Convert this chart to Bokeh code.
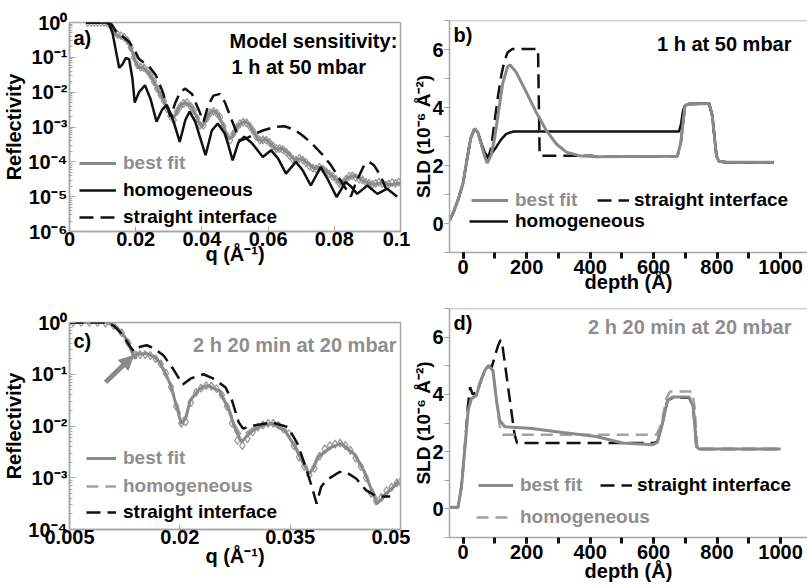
import numpy as np
from bokeh.plotting import figure
from bokeh.layouts import row, column
from bokeh.models import (Range1d, FixedTicker, SingleIntervalTicker, CustomJSTickFormatter,
                          Legend, LegendItem, Label, Arrow, NormalHead, Span)
from bokeh.core.properties import value
from bokeh.embed import file_html
from bokeh.resources import INLINE

# ---------------- data: panel a (1 h at 50 mbar, reflectivity) ----------------
a_data_q = [0.0055, 0.0065, 0.0075, 0.0085, 0.0095, 0.0105, 0.0115, 0.0125, 0.0135, 0.0145,
            0.0155, 0.0165, 0.0175, 0.0185, 0.0195, 0.0205, 0.0215, 0.0225, 0.0235, 0.0245,
            0.0255, 0.0265, 0.0275, 0.0285, 0.0295, 0.0305, 0.0315, 0.0325, 0.0335, 0.0345,
            0.0355, 0.0365, 0.0375, 0.0385, 0.0395, 0.0405, 0.0415, 0.0425, 0.0435, 0.0445,
            0.0455, 0.0465, 0.0475, 0.0485, 0.0495, 0.0505, 0.0515, 0.0525, 0.0535, 0.0545,
            0.0555, 0.0565, 0.0575, 0.0585, 0.0595, 0.0605, 0.0615, 0.0625, 0.0635, 0.0645,
            0.0655, 0.0665, 0.0675, 0.0685, 0.0695, 0.0705, 0.0715, 0.0725, 0.0735, 0.0745,
            0.0755, 0.0765, 0.0775, 0.0785, 0.0795, 0.0805, 0.0815, 0.0825, 0.0835, 0.0845,
            0.0855, 0.0865, 0.0875, 0.0885, 0.0895, 0.0905, 0.0915, 0.0925, 0.0935, 0.0945,
            0.0955, 0.0965, 0.0975, 0.0985, 0.0995]
a_data_logR = [0.0, 0.0, 0.0, 0.0, 0.0, 0.0, -0.02, -0.08, -0.25, -0.34,
               -0.38, -0.43, -0.52, -0.72, -1.0, -1.22, -1.28, -1.3, -1.38, -1.52,
               -1.7, -1.9, -2.08, -2.25, -2.48, -2.68, -2.8, -2.55, -2.4, -2.32,
               -2.3, -2.4, -2.52, -2.75, -2.95, -2.95, -2.75, -2.6, -2.55, -2.6,
               -2.72, -2.98, -3.25, -3.38, -3.2, -3.02, -2.9, -2.86, -2.88, -2.98,
               -3.12, -3.28, -3.38, -3.37, -3.38, -3.45, -3.55, -3.62, -3.62, -3.65,
               -3.72, -3.82, -3.92, -3.95, -3.9, -3.95, -4.02, -4.12, -4.18, -4.2,
               -4.16, -4.2, -4.28, -4.35, -4.42, -4.5, -4.62, -4.62, -4.5, -4.42,
               -4.4, -4.45, -4.5, -4.52, -4.58, -4.62, -4.65, -4.62, -4.58, -4.62,
               -4.66, -4.64, -4.6, -4.62, -4.58]

a_fit_q = [0.005, 0.010, 0.012, 0.013, 0.014, 0.015, 0.016, 0.017, 0.018, 0.019, 0.020,
           0.021, 0.022, 0.023, 0.024, 0.025, 0.026, 0.027, 0.028, 0.029, 0.030, 0.031,
           0.032, 0.033, 0.034, 0.035, 0.036, 0.037, 0.038, 0.039, 0.040, 0.041, 0.042,
           0.043, 0.044, 0.045, 0.046, 0.047, 0.048, 0.049, 0.050, 0.051, 0.052, 0.053,
           0.054, 0.055, 0.056, 0.057, 0.058, 0.059, 0.060, 0.061, 0.062, 0.063, 0.064,
           0.066, 0.068, 0.070, 0.072, 0.074, 0.076, 0.078, 0.080, 0.082, 0.084, 0.086,
           0.088, 0.090, 0.092, 0.094, 0.096, 0.098, 0.100]
a_fit_logR = [0.0, 0.0, -0.02, -0.15, -0.33, -0.40, -0.42, -0.45, -0.60, -0.85, -1.15,
              -1.30, -1.28, -1.35, -1.45, -1.60, -1.80, -2.0, -2.15, -2.35, -2.55, -2.75,
              -2.65, -2.45, -2.35, -2.30, -2.35, -2.45, -2.62, -2.85, -3.0, -2.85, -2.65,
              -2.55, -2.55, -2.65, -2.85, -3.1, -3.35, -3.3, -3.1, -2.95, -2.88, -2.85,
              -2.9, -3.05, -3.2, -3.35, -3.4, -3.35, -3.4, -3.5, -3.6, -3.65, -3.6,
              -3.75, -3.95, -3.9, -4.05, -4.2, -4.15, -4.3, -4.45, -4.65, -4.45, -4.40,
              -4.5, -4.6, -4.65, -4.6, -4.65, -4.65, -4.6]

a_hom_q = [0.005, 0.011, 0.012, 0.013, 0.014, 0.015, 0.016, 0.017, 0.018, 0.019, 0.0197,
           0.021, 0.0228, 0.0245, 0.0263, 0.028, 0.0293, 0.031, 0.0333, 0.035, 0.0363,
           0.038, 0.0411, 0.043, 0.0448, 0.047, 0.0493, 0.051, 0.0528, 0.055, 0.0584,
           0.0609, 0.063, 0.0654, 0.0684, 0.0705, 0.0729, 0.0759, 0.078, 0.0807, 0.0834,
           0.085, 0.0869, 0.090, 0.093, 0.096, 0.099]
a_hom_logR = [0.0, 0.0, -0.05, -0.3, -0.8, -1.3, -1.2, -1.02, -1.05, -1.6, -2.3,
              -2.0, -1.8, -2.2, -2.85, -2.5, -2.37, -2.7, -3.43, -2.8, -2.56,
              -2.85, -3.81, -3.1, -2.9, -3.2, -3.96, -3.45, -3.28, -3.45, -3.86,
              -3.67, -3.9, -4.34, -4.0, -4.25, -4.68, -4.15, -4.5, -5.01, -4.58,
              -4.7, -4.92, -4.68, -4.92, -4.77, -5.0]

a_str_q = [0.005, 0.012, 0.013, 0.014, 0.016, 0.018, 0.0197, 0.021, 0.0225, 0.024, 0.026,
           0.028, 0.0295, 0.0305, 0.032, 0.0335, 0.035, 0.037, 0.039, 0.0405, 0.042, 0.0435,
           0.0455, 0.047, 0.049, 0.0515, 0.054, 0.056, 0.0584, 0.062, 0.065, 0.068, 0.0705,
           0.0735, 0.0765, 0.079, 0.082, 0.085, 0.0865, 0.089, 0.0905, 0.092, 0.094, 0.0955]
a_str_logR = [0.0, 0.0, -0.1, -0.25, -0.4, -0.55, -0.8, -1.05, -1.15, -1.25, -1.5,
              -1.95, -2.4, -2.7, -2.3, -1.98, -1.9, -2.05, -2.5, -2.85, -2.35, -2.1,
              -2.05, -2.3, -2.8, -3.4, -3.3, -3.2, -3.1, -3.0, -2.98, -3.08, -3.25,
              -3.5, -3.8, -4.1, -4.55, -5.0, -4.6, -4.1, -4.0, -4.1, -4.4, -4.75]

a_xticks = [0.0, 0.02, 0.04, 0.06, 0.08, 0.1]
a_xtick_labels = ["0", "0.02", "0.04", "0.06", "0.08", "0.1"]
a_ytick_labels = ["10⁰", "10⁻¹", "10⁻²", "10⁻³", "10⁻⁴", "10⁻⁵", "10⁻⁶"]

# ---------------- data: panel b (1 h at 50 mbar, SLD profile) ----------------
b_fit_depth = [-43, -30, -15, 0, 12, 24, 36, 46, 58, 68, 76, 88, 100, 112, 125, 140, 148,
               167, 199, 230, 262, 293, 325, 366, 420, 675, 686, 699, 712, 775, 785, 798,
               806, 830, 979]
b_fit_sld = [0.1, 0.4, 0.85, 1.4, 2.2, 2.95, 3.27, 3.15, 2.7, 2.3, 2.08, 2.35, 3.0, 3.9,
             4.85, 5.4, 5.47, 5.22, 4.53, 3.84, 3.21, 2.75, 2.46, 2.34, 2.3, 2.32, 2.8,
             4.07, 4.12, 4.14, 3.72, 2.34, 2.14, 2.11, 2.11]

b_hom_depth = [-43, -30, -15, 0, 12, 24, 36, 46, 58, 68, 78, 90, 105, 120, 135, 150, 160,
               680, 686, 693, 699, 712, 775, 785, 798, 806, 830, 979]
b_hom_sld = [0.1, 0.4, 0.85, 1.4, 2.2, 2.95, 3.27, 3.15, 2.75, 2.45, 2.3, 2.42, 2.65, 2.9,
             3.08, 3.15, 3.17, 3.17, 3.4, 3.9, 4.07, 4.12, 4.14, 3.72, 2.34, 2.14, 2.11, 2.11]

b_str_depth = [-43, -30, -15, 0, 12, 24, 36, 46, 58, 68, 78, 88, 100, 110, 120, 130, 140,
               155, 236, 241, 404, 420, 675, 686, 699, 712, 775, 785, 798, 806, 830, 979]
b_str_sld = [0.1, 0.4, 0.85, 1.4, 2.2, 2.95, 3.27, 3.15, 2.7, 2.35, 2.25, 2.6, 3.6, 4.4,
             5.1, 5.6, 5.9, 6.02, 6.02, 2.34, 2.34, 2.3, 2.32, 2.8, 4.07, 4.12, 4.14, 3.72,
             2.34, 2.14, 2.11, 2.11]

# ---------------- data: panel c (2 h 20 min at 20 mbar, reflectivity) ----------------
c_data_q = [0.0055, 0.0066, 0.0077, 0.0088, 0.0099, 0.0110, 0.0121, 0.0130, 0.0138, 0.0146,
            0.0153, 0.0160, 0.0167, 0.0174, 0.0181, 0.0188, 0.0195, 0.0202, 0.0208, 0.0215,
            0.0222, 0.0229, 0.0236, 0.0243, 0.0250, 0.0257, 0.0264, 0.0271, 0.0278, 0.0285,
            0.0292, 0.0299, 0.0306, 0.0313, 0.0320, 0.0327, 0.0334, 0.0341, 0.0348, 0.0355,
            0.0362, 0.0369, 0.0376, 0.0383, 0.0390, 0.0397, 0.0404, 0.0411, 0.0418, 0.0425,
            0.0432, 0.0439, 0.0446, 0.0453, 0.0460, 0.0467, 0.0474, 0.0481, 0.0488, 0.0495,
            0.0500]
c_data_logR = [0.0, 0.0, 0.0, 0.0, -0.01, -0.06, -0.2, -0.4, -0.62, -0.62,
               -0.62, -0.64, -0.7, -0.8, -0.98, -1.25, -1.62, -1.95, -1.92, -1.55,
               -1.35, -1.27, -1.22, -1.23, -1.28, -1.4, -1.62, -1.95, -2.28, -2.38,
               -2.25, -2.12, -2.02, -1.98, -1.95, -1.95, -1.99, -2.06, -2.15, -2.38,
               -2.6, -2.78, -2.95, -2.82, -2.58, -2.44, -2.38, -2.35, -2.33, -2.38,
               -2.47, -2.62, -2.78, -3.0, -3.3, -3.45, -3.38, -3.25, -3.18, -3.1,
               -3.08]

c_fit_q = [0.005, 0.0102, 0.0115, 0.0129, 0.0135, 0.0140, 0.01405, 0.0155, 0.0165, 0.0173,
           0.0187, 0.0196, 0.0202, 0.0208, 0.0214, 0.0227, 0.0238, 0.0254, 0.0267, 0.0276,
           0.0284, 0.0292, 0.0299, 0.0312, 0.0325, 0.0343, 0.0357, 0.0368, 0.0376, 0.0382,
           0.0388, 0.0406, 0.0419, 0.0437, 0.0450, 0.0459, 0.0468, 0.0474, 0.0481, 0.0497]
c_fit_logR = [0.0, 0.0, -0.1, -0.35, -0.58, -0.70, -0.62, -0.60, -0.66, -0.77,
              -1.19, -1.64, -1.96, -1.85, -1.51, -1.28, -1.22, -1.32, -1.70, -2.09,
              -2.31, -2.18, -2.09, -1.99, -1.95, -2.09, -2.41, -2.73, -2.92, -2.80,
              -2.60, -2.41, -2.34, -2.54, -2.86, -3.18, -3.50, -3.42, -3.31, -3.08]

c_hom_q = [0.005, 0.0102, 0.0115, 0.0129, 0.0135, 0.0145, 0.0155, 0.0165, 0.0173, 0.0187,
           0.0196, 0.0203, 0.0209, 0.0214, 0.0227, 0.0238, 0.0254, 0.0267, 0.0276, 0.0284,
           0.0292, 0.0299, 0.0312, 0.0325, 0.0343, 0.0357, 0.0368, 0.0376, 0.0382, 0.0388,
           0.0406, 0.0419, 0.0437, 0.0450, 0.0459, 0.0468, 0.0474, 0.0481, 0.0497]
c_hom_logR = [0.0, 0.0, -0.1, -0.35, -0.55, -0.60, -0.60, -0.66, -0.77, -1.17,
              -1.60, -1.88, -1.80, -1.50, -1.27, -1.21, -1.31, -1.68, -2.02, -2.20,
              -2.12, -2.05, -1.97, -1.94, -2.08, -2.40, -2.70, -2.86, -2.76, -2.58,
              -2.40, -2.33, -2.52, -2.84, -3.15, -3.42, -3.38, -3.29, -3.08]

c_str_q = [0.005, 0.0100, 0.0110, 0.0121, 0.0134, 0.0138, 0.0146, 0.0155, 0.0165, 0.0178,
           0.0191, 0.0204, 0.0215, 0.0232, 0.0245, 0.0262, 0.0271, 0.0280, 0.0286, 0.0293,
           0.0301, 0.0325, 0.0347, 0.0360, 0.0371, 0.0380, 0.0386, 0.0392, 0.0399, 0.0417,
           0.0426, 0.0440, 0.0453, 0.0467, 0.0486]
c_str_logR = [0.0, 0.0, -0.06, -0.22, -0.5, -0.56, -0.47, -0.44, -0.5, -0.64,
              -0.9, -1.2, -1.08, -1.0, -1.08, -1.25, -1.51, -1.93, -2.05, -2.02,
              -1.99, -1.93, -2.02, -2.34, -2.79, -3.2, -3.5, -3.18, -3.05, -2.89,
              -2.89, -3.02, -3.24, -3.36, -3.36]

c_xticks = [0.005, 0.02, 0.035, 0.05]
c_xtick_labels = ["0.005", "0.02", "0.035", "0.05"]
c_ytick_labels = ["10⁰", "10⁻¹", "10⁻²", "10⁻³", "10⁻⁴"]

# ---------------- data: panel d (2 h 20 min at 20 mbar, SLD profile) ----------------
d_fit_depth = [-43, -16, -5, 5, 16, 26, 42, 52, 68, 79, 94, 105, 115, 131, 209, 314, 419,
               503, 597, 612, 628, 644, 660, 712, 725, 735, 743, 1000]
d_fit_sld = [0.06, 0.06, 0.8, 2.07, 3.45, 3.85, 3.97, 4.37, 4.83, 5.0, 4.83, 3.79, 3.1,
             2.87, 2.82, 2.67, 2.53, 2.30, 2.24, 2.32, 2.99, 3.79, 3.91, 3.91, 3.56, 2.18,
             2.09, 2.09]

d_hom_depth = [-43, -16, -5, 5, 16, 26, 42, 52, 68, 79, 94, 105, 115, 125, 610, 625, 640,
               652, 722, 730, 737, 745, 1000]
d_hom_sld = [0.06, 0.06, 0.8, 2.07, 3.45, 3.85, 3.97, 4.37, 4.83, 5.0, 4.83, 3.79, 2.9,
             2.59, 2.59, 3.0, 3.85, 4.1, 4.1, 3.5, 2.2, 2.09, 2.09]

d_str_depth = [-43, -16, -5, 5, 15, 22, 30, 45, 60, 79, 90, 99, 110, 118, 122, 162, 170,
               600, 612, 628, 644, 660, 712, 725, 735, 743, 1000]
d_str_sld = [0.06, 0.06, 0.8, 2.1, 3.6, 4.25, 4.0, 4.1, 4.6, 5.0, 4.95, 5.3, 5.7, 5.9,
             5.85, 2.6, 2.3, 2.3, 2.35, 2.99, 3.79, 3.88, 3.88, 3.56, 2.18, 2.09, 2.09]

# ---------------- styling constants ----------------
FONT = "Liberation Sans"
FIT_GRAY = "#8a8a8a"
DATA_GRAY = "#9c9c9c"
HOM_GRAY = "#a2a2a2"
TEXT_GRAY = "#8e8e8e"
FRAME_GRAY = "#a6a6a6"
BLACK = "#111111"
DASH = "14 7"
LEG_SIZE = "19px"

# arrow in panel c (data coordinates: q, reflectivity)
arrow_c = dict(q0=0.0099, r0=0.070, q1=0.0137, r1=0.23)


def log_values(v):
    return np.power(10.0, np.array(v, dtype=float))


def list_formatter(tvals, labs):
    return CustomJSTickFormatter(args=dict(tvals=tvals, labs=labs), code="""
        let best = 0, bd = Infinity;
        for (let i = 0; i < tvals.length; i++) {
            const d = Math.abs(tvals[i] - tick);
            if (d < bd) { bd = d; best = i; }
        }
        return labs[best];
    """)


def log_formatter(labs):
    return CustomJSTickFormatter(args=dict(labs=labs), code="""
        const k = Math.round(-Math.log10(tick));
        return (k >= 0 && k < labs.length) ? labs[k] : "";
    """)


def decade_minors(lo_exp, hi_exp):
    out = []
    for e in range(lo_exp, hi_exp):
        for m in range(2, 10):
            out.append(m * 10.0 ** e)
    return out


def base_style(p, label_size="20px"):
    p.xgrid.visible = False
    p.ygrid.visible = False
    p.background_fill_color = "white"
    p.border_fill_color = "white"
    for ax in (p.xaxis[0], p.yaxis[0]):
        ax.axis_line_color = FRAME_GRAY
        ax.axis_line_width = 1.5
        ax.major_label_text_font = FONT
        ax.major_label_text_font_style = "bold"
        ax.major_label_text_font_size = "20px"
        ax.major_label_text_color = "black"
        ax.axis_label_text_font = FONT
        ax.axis_label_text_font_style = "bold"
        ax.axis_label_text_font_size = label_size
        ax.axis_label_text_color = "black"


def add_legend(p, r, text, color, x, y, gw, standoff=7):
    p.add_layout(Legend(items=[LegendItem(label=value(text), renderers=[r])], location=(x, y),
                        padding=0, margin=0, spacing=0, border_line_color=None,
                        background_fill_alpha=0.0, glyph_width=gw, glyph_height=20,
                        label_height=20, label_standoff=standoff, label_text_font=FONT,
                        label_text_font_style="bold", label_text_font_size=LEG_SIZE,
                        label_text_color=color))


def add_text(p, x, y, text, color="black", align="left"):
    p.add_layout(Label(x=x, y=y, x_units="screen", y_units="screen", text=text,
                       text_font=FONT, text_font_style="bold", text_font_size="20px",
                       text_color=color, text_align=align, text_baseline="middle"))


def refl_axes(p, xticks, xlabels, lo_exp, ylabels):
    p.xaxis[0].ticker = FixedTicker(ticks=xticks)
    p.xaxis[0].formatter = list_formatter(xticks, xlabels)
    p.xaxis[0].major_tick_in = 5
    p.xaxis[0].major_tick_out = 0
    p.xaxis[0].major_tick_line_color = FRAME_GRAY
    p.xaxis[0].minor_tick_line_color = None
    p.xaxis[0].major_label_standoff = 0
    p.yaxis[0].ticker = FixedTicker(ticks=[10.0 ** e for e in range(lo_exp, 1)],
                                    minor_ticks=decade_minors(lo_exp, 0))
    p.yaxis[0].formatter = log_formatter(ylabels)
    p.yaxis[0].major_tick_in = 6
    p.yaxis[0].major_tick_out = 0
    p.yaxis[0].minor_tick_in = 3
    p.yaxis[0].minor_tick_out = 0
    p.yaxis[0].major_tick_line_color = FRAME_GRAY
    p.yaxis[0].minor_tick_line_color = FRAME_GRAY
    p.yaxis[0].major_label_standoff = 2
    p.yaxis[0].axis_label_standoff = 0
    p.outline_line_color = FRAME_GRAY
    p.outline_line_width = 1.5


def sld_axes(p):
    p.xaxis[0].ticker = SingleIntervalTicker(interval=200, num_minor_ticks=2)
    p.xaxis[0].major_tick_in = 0
    p.xaxis[0].major_tick_out = 6
    p.xaxis[0].minor_tick_in = 0
    p.xaxis[0].minor_tick_out = 6
    p.xaxis[0].major_tick_line_color = BLACK
    p.xaxis[0].minor_tick_line_color = BLACK
    p.xaxis[0].major_tick_line_width = 3
    p.xaxis[0].minor_tick_line_width = 3
    p.xaxis[0].major_label_standoff = 1
    p.yaxis[0].ticker = SingleIntervalTicker(interval=2, num_minor_ticks=2)
    p.yaxis[0].major_tick_in = 0
    p.yaxis[0].major_tick_out = 5
    p.yaxis[0].minor_tick_in = 0
    p.yaxis[0].minor_tick_out = 5
    p.yaxis[0].major_tick_line_color = FRAME_GRAY
    p.yaxis[0].minor_tick_line_color = FRAME_GRAY
    p.yaxis[0].major_label_standoff = 1
    p.yaxis[0].axis_label_standoff = -5
    p.outline_line_color = None
    p.add_layout(Span(location=7, dimension="width", line_color=FRAME_GRAY, line_width=1.5))


# ---------------- panel a ----------------
pa = figure(width=410, height=290, x_range=Range1d(0, 0.1), y_range=Range1d(1e-6, 1.0),
            y_axis_type="log", output_backend="svg", toolbar_location=None,
            min_border_left=68, min_border_right=10, min_border_top=22, min_border_bottom=59)
base_style(pa)
refl_axes(pa, a_xticks, a_xtick_labels, -6, a_ytick_labels)
pa.xaxis[0].axis_label = "q (Å⁻¹)"
pa.xaxis[0].axis_label_standoff = -6
pa.yaxis[0].axis_label = "Reflectivity"

pa.scatter(a_data_q, log_values(a_data_logR), marker="diamond", size=8, fill_color=None,
           line_color=DATA_GRAY, line_width=1.3)
ra_fit = pa.line(a_fit_q, log_values(a_fit_logR), line_color=FIT_GRAY, line_width=3)
ra_hom = pa.line(a_hom_q, log_values(a_hom_logR), line_color=BLACK, line_width=2.5)
ra_str = pa.line(a_str_q, log_values(a_str_logR), line_color=BLACK, line_width=2.5, line_dash=DASH)
add_legend(pa, ra_fit, "best fit", TEXT_GRAY, 10, 57, 37)
add_legend(pa, ra_hom, "homogeneous", "black", 10, 30, 37)
add_legend(pa, ra_str, "straight interface", "black", 10, 3, 37)
add_text(pa, 4, 194, "a)")
add_text(pa, 160, 191, "Model sensitivity:")
add_text(pa, 162, 165, "1 h at 50 mbar")

# ---------------- panel b ----------------
pb = figure(width=397, height=299, x_range=Range1d(-43, 1085), y_range=Range1d(-1, 7),
            output_backend="svg", toolbar_location=None,
            min_border_left=38, min_border_right=0, min_border_top=20, min_border_bottom=47)
base_style(pb, label_size="19px")
pb.xaxis[0].axis_label_text_font_size = "20px"
sld_axes(pb)
pb.xaxis[0].axis_label = "depth (Å)"
pb.xaxis[0].axis_label_standoff = -6
pb.yaxis[0].axis_label = "SLD (10⁻⁶ Å⁻²)"

rb_hom = pb.line(b_hom_depth, b_hom_sld, line_color=BLACK, line_width=2.5)
rb_str = pb.line(b_str_depth, b_str_sld, line_color=BLACK, line_width=2.5, line_dash=DASH)
rb_fit = pb.line(b_fit_depth, b_fit_sld, line_color=FIT_GRAY, line_width=3)
add_legend(pb, rb_fit, "best fit", TEXT_GRAY, 22, 41, 37)
add_legend(pb, rb_str, "straight interface", "black", 148, 41, 32, standoff=5)
add_legend(pb, rb_hom, "homogeneous", "black", 20, 20, 39)
add_text(pb, 4, 218, "b)")
add_text(pb, 342, 209, "1 h at 50 mbar", align="right")

# ---------------- panel c ----------------
pc = figure(width=410, height=296, x_range=Range1d(0.005, 0.05), y_range=Range1d(1e-4, 1.0),
            y_axis_type="log", output_backend="svg", toolbar_location=None,
            min_border_left=68, min_border_right=7, min_border_top=32, min_border_bottom=57)
base_style(pc)
refl_axes(pc, c_xticks, c_xtick_labels, -4, c_ytick_labels)
pc.xaxis[0].axis_label = "q (Å⁻¹)"
pc.xaxis[0].axis_label_standoff = -2
pc.yaxis[0].axis_label = "Reflectivity"

pc.scatter(c_data_q, log_values(c_data_logR), marker="diamond", size=8, fill_color=None,
           line_color=DATA_GRAY, line_width=1.3)
rc_hom = pc.line(c_hom_q, log_values(c_hom_logR), line_color=HOM_GRAY, line_width=2.5, line_dash="12 7")
rc_fit = pc.line(c_fit_q, log_values(c_fit_logR), line_color=FIT_GRAY, line_width=3)
rc_str = pc.line(c_str_q, log_values(c_str_logR), line_color=BLACK, line_width=2.5, line_dash=DASH)
add_legend(pc, rc_fit, "best fit", TEXT_GRAY, 17, 60, 30)
add_legend(pc, rc_hom, "homogeneous", TEXT_GRAY, 17, 32, 30)
add_legend(pc, rc_str, "straight interface", "black", 17, 6, 30)
add_text(pc, 4, 189, "c)")
add_text(pc, 327, 185, "2 h 20 min at 20 mbar", color=TEXT_GRAY, align="right")
pc.add_layout(Arrow(end=NormalHead(size=14, fill_color=FIT_GRAY, line_color=FIT_GRAY),
                    x_start=arrow_c["q0"], y_start=arrow_c["r0"],
                    x_end=arrow_c["q1"], y_end=arrow_c["r1"],
                    line_color=FIT_GRAY, line_width=5))

# ---------------- panel d ----------------
pd_ = figure(width=397, height=287, x_range=Range1d(-43, 1085), y_range=Range1d(-1, 7),
             output_backend="svg", toolbar_location=None,
             min_border_left=38, min_border_right=0, min_border_top=9, min_border_bottom=49)
base_style(pd_, label_size="19px")
pd_.xaxis[0].axis_label_text_font_size = "20px"
sld_axes(pd_)
pd_.xaxis[0].axis_label = "depth (Å)"
pd_.xaxis[0].axis_label_standoff = -2
pd_.yaxis[0].axis_label = "SLD (10⁻⁶ Å⁻²)"

rd_str = pd_.line(d_str_depth, d_str_sld, line_color=BLACK, line_width=2.5, line_dash=DASH)
rd_hom = pd_.line(d_hom_depth, d_hom_sld, line_color=HOM_GRAY, line_width=2.5, line_dash="12 7")
rd_fit = pd_.line(d_fit_depth, d_fit_sld, line_color=FIT_GRAY, line_width=3)
add_legend(pd_, rd_fit, "best fit", TEXT_GRAY, 29, 41, 35)
add_legend(pd_, rd_str, "straight interface", "black", 151, 41, 32, standoff=5)
add_legend(pd_, rd_hom, "homogeneous", TEXT_GRAY, 27, 9, 37)
add_text(pd_, 4, 215, "d)")
add_text(pd_, 342, 211, "2 h 20 min at 20 mbar", color=TEXT_GRAY, align="right")

layout = row(column(pa, pc), column(pb, pd_))
open("out.html", "w").write(file_html(layout, INLINE))
